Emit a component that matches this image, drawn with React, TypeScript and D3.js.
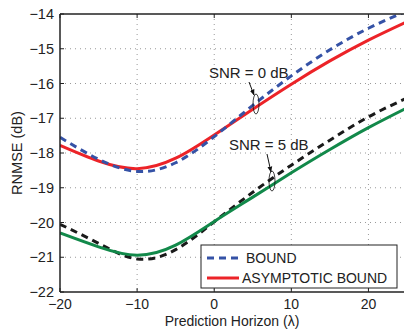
import React from "react";
import * as d3 from "d3";

const lambdas = [-20, -15, -10, -5, 0, 5, 10, 15, 20, 25];
const boundSnr0 = [-17.55, -18.18, -18.53, -18.28, -17.53, -16.63, -15.78, -15.03, -14.41, -13.91];
const asymSnr0 = [-17.78, -18.23, -18.45, -18.15, -17.48, -16.74, -16.02, -15.35, -14.75, -14.22];
const boundSnr5 = [-20.05, -20.6, -21.05, -20.78, -19.98, -19.13, -18.35, -17.63, -16.96, -16.42];
const asymSnr5 = [-20.3, -20.7, -20.94, -20.65, -19.97, -19.27, -18.57, -17.9, -17.27, -16.7];
const xTicks = [-20, -10, 0, 10, 20];
const yTicks = [-14, -15, -16, -17, -18, -19, -20, -21, -22];
const legendLabels = ["BOUND", "ASYMPTOTIC BOUND"];

const W = 404, H = 330;
const L = 60, R = 407, T = 14, B = 292;
const FONT = "'Liberation Sans', Arial, sans-serif";

export default function App() {
  const x = d3.scaleLinear().domain([-20, 25]).range([L, R]);
  const y = d3.scaleLinear().domain([-22, -14]).range([B, T]);
  const line = (vals: number[]) =>
    d3.line<number>().x((_, i) => x(lambdas[i])).y((v) => y(v)).curve(d3.curveNatural)(vals) || "";

  const series = [
    { vals: boundSnr5, color: "#1a1a1a", dash: "7,5" },
    { vals: asymSnr5, color: "#12894a", dash: "" },
    { vals: asymSnr0, color: "#ec2328", dash: "" },
    { vals: boundSnr0, color: "#3552a6", dash: "7,5" },
  ];

  return (
    <svg width={W} height={H} style={{ position: "absolute", left: 0, top: 0, background: "#fff" }}>
      <defs>
        <clipPath id="plot">
          <rect x={L} y={T} width={R - L} height={B - T} />
        </clipPath>
        <marker id="arr" viewBox="0 0 10 10" refX="9" refY="5" markerWidth="6" markerHeight="6" orient="auto">
          <path d="M0,1 L10,5 L0,9 z" fill="#111" />
        </marker>
      </defs>
      {yTicks.filter((t) => t !== -14 && t !== -22).map((t) => (
        <line key={"gy" + t} x1={L} x2={R} y1={y(t)} y2={y(t)} stroke="#999" strokeWidth={1} strokeDasharray="1,4" />
      ))}
      {xTicks.filter((t) => t !== -20).map((t) => (
        <line key={"gx" + t} x1={x(t)} x2={x(t)} y1={T} y2={B} stroke="#999" strokeWidth={1} strokeDasharray="1,4" />
      ))}
      {xTicks.map((t) => (
        <g key={"tx" + t}>
          <line x1={x(t)} x2={x(t)} y1={B} y2={B - 4} stroke="#222" />
          <line x1={x(t)} x2={x(t)} y1={T} y2={T + 4} stroke="#222" />
        </g>
      ))}
      {yTicks.map((t) => (
        <line key={"ty" + t} x1={L} x2={L + 4} y1={y(t)} y2={y(t)} stroke="#222" />
      ))}
      <g clipPath="url(#plot)">
        {series.map((s, i) => (
          <path key={i} d={line(s.vals)} fill="none" stroke={s.color} strokeWidth={3} strokeDasharray={s.dash || undefined} />
        ))}
      </g>
      <line x1={L} x2={R} y1={T} y2={T} stroke="#222" strokeWidth={1.5} />
      <line x1={L} x2={R} y1={B} y2={B} stroke="#222" strokeWidth={1.5} />
      <line x1={L} x2={L} y1={T} y2={B} stroke="#222" strokeWidth={1.5} />
      {yTicks.map((t) => (
        <text key={"ly" + t} x={54} y={y(t)} dy="0.35em" textAnchor="end" fontFamily={FONT} fontSize={14.5} fill="#222">
          {"\u2212" + Math.abs(t)}
        </text>
      ))}
      {xTicks.map((t) => (
        <text key={"lx" + t} x={x(t)} y={308.5} textAnchor="middle" fontFamily={FONT} fontSize={14} fill="#222">
          {t < 0 ? "\u2212" + Math.abs(t) : String(t)}
        </text>
      ))}
      <text x={232} y={325.5} textAnchor="middle" fontFamily={FONT} fontSize={14} fill="#222">Prediction Horizon (λ)</text>
      <text transform={`translate(22,153) rotate(-90)`} textAnchor="middle" fontFamily={FONT} fontSize={14.5} fill="#222">RNMSE (dB)</text>

      {/* annotations */}
      <text x={209} y={78} fontFamily={FONT} fontSize={15} fill="#222">SNR = 0 dB</text>
      <line x1={249} y1={82} x2={254} y2={95} stroke="#111" strokeWidth={1} markerEnd="url(#arr)" />
      <ellipse cx={256} cy={104} rx={3} ry={10} fill="none" stroke="#111" strokeWidth={0.8} />
      <text x={229} y={150} fontFamily={FONT} fontSize={15} fill="#222">SNR = 5 dB</text>
      <line x1={267} y1={154} x2={271} y2={172} stroke="#111" strokeWidth={1} markerEnd="url(#arr)" />
      <ellipse cx={272} cy={181} rx={3} ry={10} fill="none" stroke="#111" strokeWidth={0.8} />

      {/* legend */}
      <rect x={201} y={245} width={196} height={43} fill="#fff" stroke="#222" strokeWidth={1} />
      <line x1={207} x2={239} y1={258} y2={258} stroke="#3552a6" strokeWidth={3} strokeDasharray="7,5" />
      <text x={246} y={263} fontFamily={FONT} fontSize={14} fill="#222">{legendLabels[0]}</text>
      <line x1={207} x2={239} y1={278} y2={278} stroke="#ec2328" strokeWidth={3} />
      <text x={242} y={283} fontFamily={FONT} fontSize={14} fill="#222">{legendLabels[1]}</text>
    </svg>
  );
}
